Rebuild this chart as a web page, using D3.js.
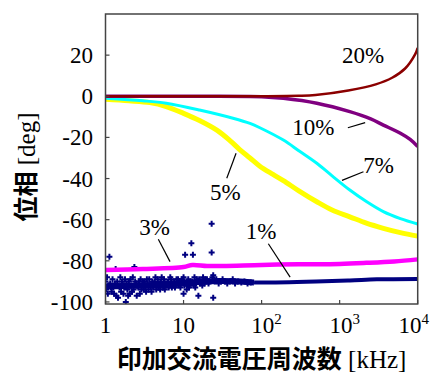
<!DOCTYPE html>
<html><head><meta charset="utf-8">
<script src="https://cdn.jsdelivr.net/npm/d3@7"></script>
<style>
html,body{margin:0;padding:0;background:#fff;}
svg{display:block;}
</style></head>
<body>
<svg id="c" width="430" height="374"></svg>
<script>
// ---- data (frequency in kHz, phase in deg) ----
const xTickExponents = [0, 1, 2, 3, 4];
const yTicks = [20, 0, -20, -40, -60, -80, -100];

const freq20 = [1, 10, 100, 300, 490, 1290, 2900, 4700, 6900, 9300, 10000];
const phase20 = [0, 0, 0, 0.2, 0.6, 2.8, 5.8, 9, 13.5, 20.5, 23.5];

const freq10 = [1, 10, 100, 190, 510, 1350, 2500, 3630, 6000, 8000, 10000];
const phase10 = [0, 0, -0.2, -1, -3.4, -7.5, -11, -14, -18, -21, -24.5];

const freq7 = [1, 3, 6, 16, 43, 71, 95, 190, 300, 510, 800, 1350, 2200, 3630, 6000, 10000];
const phase7 = [-1, -2.2, -3.4, -6.7, -10.7, -13.2, -15.3, -21.3, -26.5, -32.6, -38.7, -45.6, -51.2, -56.1, -59.5, -62.1];

const freq5 = [1, 2, 3.7, 6, 10, 16, 27, 40, 52, 71, 95, 140, 190, 300, 510, 800, 1350, 2200, 3630, 6000, 10000];
const phase5 = [-1.5, -2.2, -3.1, -5, -8.3, -11.8, -16.6, -21.8, -25.8, -30, -34, -38, -41, -46, -51.3, -55.3, -58.6, -61.7, -64.2, -66.3, -68];

const freq3 = [1, 3, 10, 13, 20, 32, 100, 300, 1000, 2200, 5000, 10000];
const phase3 = [-84.5, -84, -83, -82, -82.5, -82.5, -82, -81.7, -81.5, -81, -80.3, -79.3];

const freq1 = [1, 3, 10, 30, 80, 100, 500, 1350, 3000, 10000];
const phase1 = [-92.5, -92, -90.8, -89.8, -90.5, -90.6, -90.1, -89.6, -89, -88.8];

// scattered 1% points at low frequency: [log10(kHz), deg]
const scatter1 = [
[0.00,-90],[0.01,-94],[0.02,-88],[0.03,-96],[0.04,-92],[0.05,-78],[0.06,-91],[0.07,-93],[0.08,-95],[0.09,-89],[0.10,-93],
[0.11,-96],[0.12,-91],[0.13,-84],[0.14,-97],[0.15,-90],[0.16,-98],[0.17,-92],[0.18,-93],[0.19,-88],[0.20,-95],[0.21,-90],[0.22,-91],[0.23,-96],[0.24,-93],
[0.25,-89],[0.26,-100],[0.27,-91],[0.28,-94],[0.29,-97],[0.30,-90],[0.31,-96],[0.32,-89],[0.33,-92],[0.34,-95],[0.35,-88],[0.36,-94],[0.37,-83],[0.38,-90],[0.39,-91],
[0.40,-97],[0.41,-92],[0.42,-93],[0.43,-90],[0.44,-96],[0.45,-89],[0.46,-94],[0.47,-92],[0.48,-90],[0.49,-94],[0.50,-90],[0.51,-93],[0.52,-95],[0.53,-89],[0.54,-91],[0.55,-94],[0.56,-89],
[0.57,-92],[0.58,-93],[0.59,-95],[0.60,-90],[0.61,-93],[0.62,-92],[0.63,-90],[0.64,-88],[0.65,-94],[0.66,-92],[0.67,-89],[0.68,-93],[0.69,-91],[0.70,-94],[0.71,-90],[0.72,-88],[0.73,-92],[0.74,-93],[0.75,-89],
[0.76,-94],[0.77,-91],[0.78,-92],[0.80,-90],[0.81,-93],[0.82,-92],[0.83,-88],[0.84,-89],[0.85,-93],[0.86,-91],[0.87,-92],[0.88,-90],[0.89,-93],[0.90,-92],[0.91,-89],[0.93,-89],[0.94,-92],[0.95,-90],[0.96,-93],[0.97,-91],[0.98,-89],
[1.00,-96],[1.00,-88],[1.01,-92],[1.02,-77],[1.03,-91],[1.04,-94],[1.05,-92],[1.06,-89],[1.07,-93],[1.08,-92],[1.09,-90],[1.10,-71.5],[1.11,-90],[1.12,-77],[1.13,-92],
[1.14,-88],[1.15,-93],[1.16,-91],[1.17,-89],[1.19,-97],[1.20,-89],[1.21,-91],[1.22,-90],[1.24,-92],[1.25,-88],[1.27,-91],[1.28,-89],[1.30,-89],[1.32,-91],[1.33,-90],[1.36,-62],
[1.36,-76],[1.37,-88],[1.38,-87],[1.38,-98],[1.40,-90],[1.42,-89],[1.45,-91],[1.48,-90],[1.50,-89],[1.53,-90],
[1.56,-91],[1.60,-90],[1.63,-89],[1.66,-91],[1.70,-90],[1.74,-90.5],[1.78,-90],[1.82,-91],[1.86,-90.5]
];

// labels: text, freq (kHz), phase (deg); leader lines: [f1,p1,f2,p2]
const labelText = ["20%", "10%", "7%", "5%", "3%", "1%"];
const labelFreq = [1070, 247, 2000, 21.9, 2.71, 62.7];
const labelPhase = [16.2, -18.8, -37.2, -50.4, -67.4, -69.2];
const leaders = [
  null,
  [1274, -15.3, 2123, -12.8],
  [1072, -40.9, 2018, -36.7],
  [35.8, -39.9, 47.1, -27.7],
  [4.75, -69.5, 6.71, -80.4],
  [122, -71.7, 232, -87.9]
];

// ---- layout ----
const L = 105.5, R = 417.7, T = 14, B = 304;
const svg = d3.select("#c");
const x = d3.scaleLog().domain([1, 10000]).range([L, R]);
const y = d3.scaleLinear().domain([-101, 40]).range([B, T]);

const serif = "'Liberation Serif','Times New Roman',serif";
const cjk = "'Noto Sans CJK JP','Noto Sans CJK SC',sans-serif";

// clip
svg.append("clipPath").attr("id","clip").append("rect")
  .attr("x", L).attr("y", T).attr("width", R - L).attr("height", B - T);
const plot = svg.append("g").attr("clip-path","url(#clip)");

const line = d3.line().x(d => x(d[0])).y(d => y(d[1])).curve(d3.curveCatmullRom.alpha(0.5));
function series(fs, ps, color, w) {
  plot.append("path").datum(fs.map((f,i)=>[f, ps[i]]))
    .attr("d", line).attr("fill","none").attr("stroke", color)
    .attr("stroke-width", w).attr("stroke-linejoin","round");
}

// 1% navy band + scatter
series(freq1.slice(0,5), phase1.slice(0,5), "#000080", 6);
series(freq1.slice(4), phase1.slice(4), "#000080", 4);
const cross = d3.symbol().type(d3.symbolCross).size(20);
plot.selectAll("path.sc").data(scatter1).join("path").attr("class","sc")
  .attr("d", cross)
  .attr("transform", d => `translate(${x(Math.pow(10,d[0]))},${y(d[1])})`)
  .attr("fill", "#000080");

// 3% magenta
series(freq3, phase3, "#ff00ff", 4.5);
// 5% yellow
series(freq5, phase5, "#ffff00", 5);
// 7% cyan
series(freq7, phase7, "#00ffff", 3);
// 10% purple
series(freq10, phase10, "#800080", 3.5);
// 20% dark red
series(freq20, phase20, "#8b0000", 2.5);

// frame
svg.append("rect").attr("x", L).attr("y", T).attr("width", R - L).attr("height", B - T)
  .attr("fill","none").attr("stroke","#444").attr("stroke-width",1.5);

// ticks inward
const axisG = svg.append("g");
yTicks.forEach(v => {
  axisG.append("line").attr("x1", L).attr("x2", L + 4).attr("y1", y(v)).attr("y2", y(v))
    .attr("stroke","#444").attr("stroke-width",1.2);
  axisG.append("text").attr("x", 93).attr("y", y(v)).attr("dy","0.35em")
    .attr("text-anchor","end").attr("font-family", serif).attr("font-size", 23)
    .attr("fill","#000").text(v);
});
xTickExponents.forEach((e, i) => {
  const px = x(Math.pow(10, e));
  axisG.append("line").attr("x1", px).attr("x2", px).attr("y1", B).attr("y2", B - 4)
    .attr("stroke","#444").attr("stroke-width",1.2);
  const last = i === xTickExponents.length - 1;
  const t = axisG.append("text").attr("x", last ? 429 : px + (e >= 2 ? 5 : 0)).attr("y", 333)
    .attr("text-anchor", last ? "end" : "middle").attr("font-family", serif).attr("font-size", 23).attr("fill","#000");
  if (e === 0) t.text("1");
  else if (e === 1) t.text("10");
  else {
    t.append("tspan").text("10");
    t.append("tspan").attr("dy", -9).attr("font-size", 15).text(e);
  }
});

// axis titles
const xt = svg.append("text").attr("x", (L + R) / 2).attr("y", 368)
  .attr("text-anchor","middle").attr("font-size", 25).attr("fill","#000");
xt.append("tspan").attr("font-family", cjk).attr("font-weight", 700).text("印加交流電圧周波数");
xt.append("tspan").attr("font-family", serif).text(" [kHz]");

const yt = svg.append("text").attr("transform","translate(35,167) rotate(-90)")
  .attr("text-anchor","middle").attr("font-size", 25).attr("fill","#000");
yt.append("tspan").attr("font-family", cjk).attr("font-weight", 700).text("位相");
yt.append("tspan").attr("font-family", serif).text(" [deg]");

// labels & leaders
labelText.forEach((s, i) => {
  svg.append("text").attr("x", x(labelFreq[i])).attr("y", y(labelPhase[i]))
    .attr("font-family", serif).attr("font-size", 23).attr("fill","#000").text(s);
  const l = leaders[i];
  if (l) svg.append("line").attr("x1", x(l[0])).attr("y1", y(l[1])).attr("x2", x(l[2])).attr("y2", y(l[3]))
    .attr("stroke","#000").attr("stroke-width",1.2);
});
</script>
</body></html>
